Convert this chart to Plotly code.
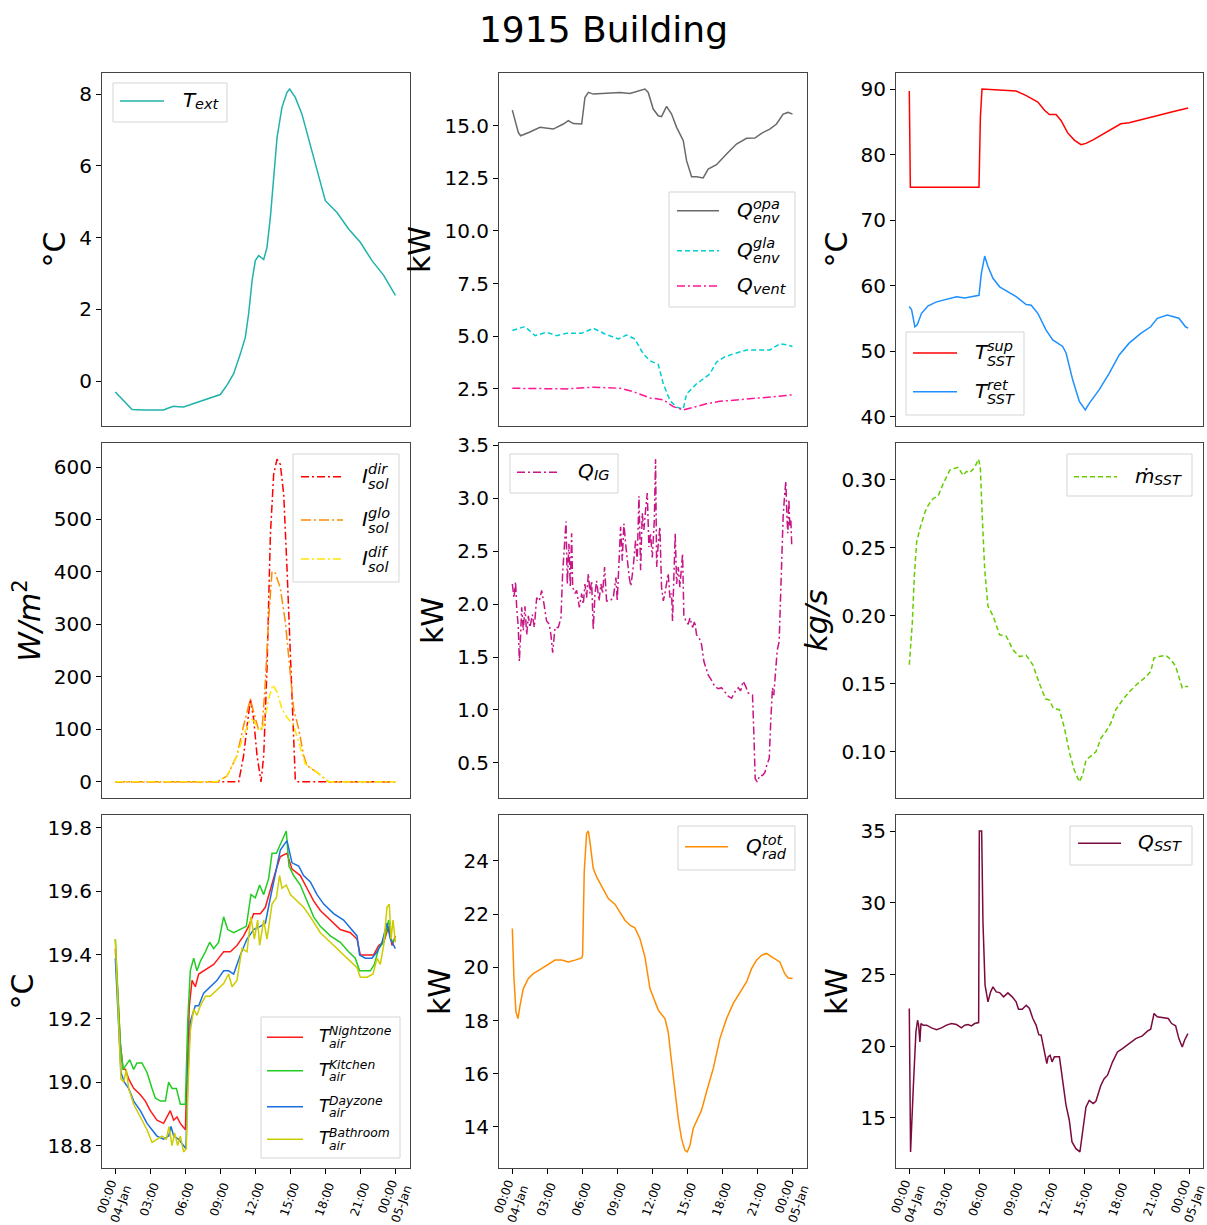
import pandas as pd
import plotly.graph_objects as go

W, H = 1207, 1225
DAY0 = pd.Timestamp("2021-01-04 00:00")

# ---------------- readings: hours after 04-Jan 00:00 and values ----------------
t_ext_h = [0, 0.5, 1.0, 1.43, 2.5, 3.5, 4.13, 4.6, 4.99, 5.4, 5.84, 6.9, 7.9, 8.98, 9.55,
           10.12, 10.7, 11.12, 11.4, 11.7, 11.97, 12.26, 12.69, 12.97, 13.26, 13.54, 13.83,
           14.25, 14.68, 14.91, 15.4, 15.96, 16.96, 17.96, 18.24, 18.96, 19.95, 20.95,
           21.95, 22.95, 23.95]
t_ext = [-0.3, -0.47, -0.62, -0.79, -0.8, -0.8, -0.8, -0.74, -0.7, -0.71, -0.72, -0.6, -0.48,
         -0.37, -0.11, 0.21, 0.77, 1.23, 1.88, 2.81, 3.36, 3.5, 3.39, 3.73, 4.57, 5.68, 6.79,
         7.63, 8.05, 8.14, 7.9, 7.44, 6.24, 5.03, 4.94, 4.7, 4.24, 3.87, 3.36, 2.95, 2.39]

q_opa_h = [0, 0.23, 0.51, 0.71, 1.08, 1.51, 2.36, 3.5, 4.36, 4.79, 5.21, 5.93, 6.21, 6.5,
           6.92, 8.06, 9.2, 10.06, 10.91, 11.34, 11.62, 12.05, 12.48, 12.76, 13.19, 13.62,
           14.05, 14.62, 14.9, 15.33, 15.75, 16.32, 16.75, 17.46, 18.32, 19.17, 20.03,
           20.74, 21.31, 22.02, 22.59, 23.16, 23.59, 23.96]
q_opa = [15.74, 15.3, 14.68, 14.52, 14.6, 14.7, 14.92, 14.84, 15.08, 15.24, 15.1, 15.08,
         16.34, 16.58, 16.5, 16.53, 16.58, 16.53, 16.66, 16.74, 16.58, 15.79, 15.47, 15.43,
         15.92, 15.55, 14.92, 14.29, 13.34, 12.58, 12.58, 12.52, 12.94, 13.15, 13.66, 14.13,
         14.4, 14.41, 14.64, 14.84, 15.08, 15.55, 15.63, 15.55]

q_gla_h = [0, 1.08, 1.94, 2.93, 3.79, 4.64, 5.93, 6.92, 7.92, 9.06, 9.77, 10.48, 11.2,
           11.77, 12.48, 12.91, 13.48, 14.05, 14.62, 14.9, 15.33, 15.75, 16.32, 16.89,
           17.46, 18.18, 18.89, 20.03, 20.88, 22.02, 22.88, 23.45, 23.96]
q_gla = [5.27, 5.46, 5.03, 5.19, 5.03, 5.14, 5.14, 5.38, 5.11, 4.87, 5.06, 4.87, 4.16, 3.84,
         3.66, 2.74, 1.95, 1.63, 1.55, 2.26, 2.5, 2.74, 2.97, 3.21, 3.77, 4.03, 4.16, 4.35,
         4.35, 4.35, 4.64, 4.6, 4.51]

q_vent_h = [0, 1.79, 4.64, 6.92, 9.2, 10.34, 11.77, 12.91, 13.76, 14.62, 15.47, 16.61,
            17.75, 19.46, 21.17, 22.59, 23.96]
q_vent = [2.53, 2.53, 2.5, 2.58, 2.53, 2.37, 2.07, 1.98, 1.66, 1.5, 1.63, 1.79, 1.91, 1.98,
          2.06, 2.14, 2.22]

t_sup_h = [0, 0.09, 5.98, 6.1, 6.24, 7.75, 9.17, 10.03, 11.03, 11.6, 12.02, 12.59, 13.02,
           13.59, 14.16, 14.73, 15.16, 15.73, 16.58, 17.44, 18.15, 18.86, 20.0, 21.14,
           21.99, 22.85, 23.93]
t_sup = [89.7, 75.0, 75.0, 85.7, 90.0, 89.9, 89.7, 89.0, 88.0, 86.75, 86.1, 86.1, 85.2,
         83.3, 82.2, 81.5, 81.7, 82.2, 83.1, 83.95, 84.7, 84.87, 85.4, 85.9, 86.3, 86.65,
         87.1]

t_ret_h = [0, 0.2, 0.48, 0.68, 1.05, 1.62, 2.34, 3.19, 4.05, 4.76, 5.33, 5.98, 6.18, 6.47,
           6.75, 7.18, 7.75, 8.46, 9.17, 10.03, 10.46, 11.03, 11.74, 12.31, 13.16, 13.45,
           14.02, 14.59, 15.1, 15.44, 16.3, 17.15, 18.01, 18.86, 19.86, 20.71, 21.28, 22.14,
           23.13, 23.7, 23.93]
t_ret = [56.8, 56.3, 53.7, 54.0, 55.75, 56.9, 57.5, 57.9, 58.3, 58.1, 58.3, 58.5, 61.8,
         64.5, 62.9, 61.1, 59.8, 59.0, 58.3, 57.1, 57.0, 55.75, 53.2, 51.7, 50.7, 49.7,
         45.6, 42.3, 41.0, 42.0, 44.1, 46.6, 49.4, 51.2, 52.7, 53.7, 55.0, 55.5, 55.0,
         53.7, 53.5]

i_dir_h = [0, 10.55, 10.97, 11.26, 11.55, 11.83, 12.12, 12.46, 12.69, 12.97, 13.26, 13.54,
           13.83, 14.11, 14.4, 14.68, 14.97, 15.2, 15.39, 15.54, 23.95]
i_dir = [0, 0, 50, 101, 158, 120, 50, 0, 50, 216, 471, 586, 615, 605, 548, 407, 248, 88,
         5, 0, 0]

i_glo_h = [0, 8.7, 9.55, 10.4, 10.97, 11.55, 11.83, 12.26, 12.55, 12.83, 13.11, 13.4,
           13.68, 14.11, 14.54, 14.97, 15.25, 15.68, 16.11, 16.39, 17.25, 18.24, 23.95]
i_glo = [0, 0, 11, 50, 107, 158, 133, 98, 101, 190, 311, 401, 398, 369, 305, 203, 139,
         101, 50, 31, 18, 0, 0]

i_dif_h = [0, 8.7, 9.55, 10.4, 10.97, 11.55, 11.83, 12.26, 12.69, 13.11, 13.48, 13.83,
           14.25, 14.68, 15.25, 15.68, 16.25, 17.25, 18.24, 23.95]
i_dif = [0, 0, 11, 50, 88, 120, 117, 98, 107, 158, 185, 171, 139, 123, 107, 75, 34, 18, 0, 0]

q_ig_h = [0.00, 0.14, 0.28, 0.37, 0.51, 0.60, 0.71, 0.80, 0.94, 1.08,
          1.23, 1.37, 1.51, 1.71, 1.88, 2.08, 2.31, 2.51, 2.71, 2.93,
          3.16, 3.30, 3.45, 3.65, 3.93, 4.16, 4.30, 4.44, 4.59, 4.70,
          4.84, 4.96, 5.07, 5.16, 5.36, 5.50, 5.73, 5.93, 6.07, 6.21,
          6.35, 6.50, 6.64, 6.78, 6.92, 7.07, 7.21, 7.41, 7.58, 7.72,
          7.89, 8.06, 8.35, 8.63, 8.86, 8.97, 9.12, 9.26, 9.40, 9.54,
          9.69, 9.83, 10.00, 10.14, 10.34, 10.54, 10.68, 10.83, 10.97, 11.11,
          11.25, 11.40, 11.54, 11.68, 11.82, 11.97, 12.14, 12.25, 12.34, 12.48,
          12.62, 12.76, 12.91, 13.05, 13.19, 13.33, 13.48, 13.62, 13.70, 13.82,
          13.93, 14.05, 14.19, 14.33, 14.47, 14.56, 14.67, 14.84, 15.04, 15.19,
          15.41, 15.61, 15.75, 15.98, 16.18, 16.38, 16.55, 16.75, 17.04, 17.32,
          17.61, 17.89, 18.18, 18.46, 18.75, 19.03, 19.32, 19.52, 19.74, 19.97,
          20.17, 20.54, 20.66, 20.77, 20.94, 21.17, 21.40, 21.60, 21.79, 21.97,
          22.11, 22.25, 22.36, 22.51, 22.65, 22.82, 22.93, 23.05, 23.16, 23.30,
          23.39, 23.48, 23.56, 23.65, 23.73, 23.82, 23.90]
q_ig = [2.19, 2.06, 2.21, 1.97, 1.78, 1.46, 1.71, 1.97, 1.75, 1.98,
        1.71, 1.89, 1.78, 1.90, 1.78, 2.06, 2.03, 2.13, 2.00, 1.84,
        1.81, 1.71, 1.54, 1.78, 1.78, 1.87, 2.29, 2.54, 2.78, 2.19,
        2.57, 2.16, 2.67, 2.16, 2.10, 2.13, 1.97, 2.10, 2.00, 2.19,
        2.06, 2.29, 2.10, 2.22, 1.76, 2.10, 2.22, 2.03, 2.19, 2.10,
        2.35, 2.03, 2.03, 2.06, 2.25, 2.03, 2.48, 2.73, 2.41, 2.76,
        2.57, 2.41, 2.25, 2.17, 2.35, 2.60, 2.41, 3.02, 2.32, 2.86,
        2.70, 2.89, 3.05, 2.54, 2.67, 2.44, 2.79, 3.37, 2.35, 2.57,
        2.73, 2.16, 2.03, 2.10, 2.19, 2.29, 2.06, 2.10, 1.84, 2.29,
        2.67, 2.19, 2.35, 2.16, 2.41, 2.48, 1.89, 1.84, 1.81, 1.87,
        1.78, 1.84, 1.71, 1.68, 1.62, 1.46, 1.40, 1.33, 1.28, 1.22,
        1.20, 1.21, 1.17, 1.13, 1.11, 1.17, 1.21, 1.18, 1.27, 1.22,
        1.16, 1.14, 0.76, 0.35, 0.32, 0.38, 0.38, 0.41, 0.49, 0.54,
        0.92, 1.21, 1.14, 1.33, 1.56, 1.65, 2.03, 2.51, 2.83, 3.05,
        3.16, 2.83, 2.67, 2.99, 2.73, 2.79, 2.54]

m_sst_h = [0, 0.26, 0.43, 0.63, 0.91, 1.34, 1.62, 2.05, 2.48, 2.91,
           3.48, 4.19, 4.62, 4.90, 5.19, 5.61, 5.95, 6.10, 6.27, 6.47,
           6.75, 7.18, 7.75, 8.32, 8.89, 9.46, 10.03, 10.60, 11.17, 11.68,
           12.02, 12.36, 12.88, 13.30, 13.73, 14.16, 14.59, 14.87, 15.16, 15.58,
           16.01, 16.44, 16.87, 17.29, 17.72, 18.29, 18.86, 19.57, 20.28, 20.71,
           21.00, 21.42, 21.99, 22.42, 22.85, 23.13, 23.42, 23.70, 23.93]
m_sst = [0.164, 0.195, 0.229, 0.254, 0.264, 0.276, 0.281, 0.286, 0.288, 0.297,
         0.307, 0.309, 0.303, 0.306, 0.305, 0.309, 0.315, 0.308, 0.271, 0.234,
         0.207, 0.200, 0.186, 0.185, 0.175, 0.170, 0.171, 0.164, 0.150, 0.139,
         0.138, 0.132, 0.131, 0.118, 0.100, 0.0865, 0.078, 0.083, 0.094, 0.097,
         0.100, 0.110, 0.115, 0.121, 0.131, 0.138, 0.144, 0.150, 0.155, 0.159,
         0.169, 0.170, 0.171, 0.168, 0.163, 0.155, 0.147, 0.148, 0.148]

t_night_h = [0.00, 0.20, 0.43, 0.66, 0.86, 1.14, 1.57, 2.14, 2.57, 2.99,
             3.56, 4.13, 4.42, 4.70, 4.99, 5.27, 5.56, 5.99, 6.13, 6.33,
             6.56, 6.84, 7.13, 7.55, 7.98, 8.41, 8.84, 9.26, 9.83, 10.40,
             10.97, 11.40, 11.83, 12.40, 12.83, 13.26, 13.68, 14.11, 14.68, 15.11,
             15.82, 16.39, 16.96, 17.53, 18.39, 19.24, 20.10, 20.67, 20.95, 21.52,
             22.09, 22.52, 22.95, 23.38, 23.66, 23.95]
t_night = [19.42, 19.29, 19.12, 19.04, 19.04, 19.01, 18.98, 18.96, 18.94, 18.91,
           18.88, 18.87, 18.89, 18.91, 18.88, 18.89, 18.87, 18.85, 19.03, 19.24,
           19.32, 19.30, 19.34, 19.35, 19.36, 19.37, 19.39, 19.41, 19.41, 19.43,
           19.46, 19.49, 19.53, 19.53, 19.55, 19.61, 19.66, 19.71, 19.72, 19.67,
           19.65, 19.61, 19.57, 19.54, 19.51, 19.48, 19.47, 19.45, 19.40, 19.40,
           19.40, 19.43, 19.44, 19.49, 19.43, 19.46]

t_kitchen_h = [0.00, 0.20, 0.43, 0.66, 1.00, 1.23, 1.57, 1.85, 2.28, 2.71,
               3.14, 3.42, 3.85, 4.28, 4.56, 4.85, 5.22, 5.56, 5.99, 6.19,
               6.41, 6.70, 6.98, 7.27, 7.70, 8.07, 8.41, 8.84, 9.26, 9.61,
               10.12, 10.69, 11.20, 11.60, 11.97, 12.34, 12.69, 13.11, 13.40, 13.77,
               14.11, 14.40, 14.62, 14.85, 15.25, 15.82, 16.39, 16.96, 17.53, 18.39,
               19.24, 19.95, 20.52, 20.89, 21.24, 21.81, 22.15, 22.52, 22.95, 23.38,
               23.66, 23.95]
t_kitchen = [19.45, 19.28, 19.12, 19.04, 19.06, 19.07, 19.04, 19.06, 19.06, 19.03,
             18.98, 18.95, 18.94, 18.94, 19.00, 18.98, 18.98, 18.93, 18.93, 19.19,
             19.35, 19.39, 19.35, 19.38, 19.41, 19.44, 19.42, 19.44, 19.52, 19.48,
             19.47, 19.48, 19.49, 19.59, 19.58, 19.62, 19.59, 19.64, 19.72, 19.72,
             19.75, 19.77, 19.79, 19.68, 19.65, 19.62, 19.57, 19.52, 19.49, 19.46,
             19.44, 19.41, 19.39, 19.35, 19.35, 19.35, 19.37, 19.42, 19.44, 19.51,
             19.44, 19.45]

t_day_h = [0.00, 0.20, 0.48, 0.77, 1.14, 1.57, 2.14, 2.71, 3.14, 3.56,
           4.13, 4.56, 4.76, 4.99, 5.42, 5.84, 6.04, 6.21, 6.41, 6.84,
           7.13, 7.55, 8.12, 8.70, 9.26, 9.69, 10.12, 10.69, 11.26, 11.83,
           12.40, 12.83, 13.26, 13.68, 14.11, 14.68, 15.11, 15.68, 16.10, 16.68,
           17.25, 17.82, 18.67, 19.52, 20.24, 20.67, 20.89, 21.38, 21.95, 22.38,
           22.81, 23.23, 23.52, 23.95]
t_day = [19.39, 19.24, 19.03, 19.00, 18.98, 18.94, 18.91, 18.87, 18.85, 18.83,
         18.82, 18.83, 18.86, 18.83, 18.82, 18.80, 18.79, 19.03, 19.19, 19.24,
         19.24, 19.28, 19.30, 19.32, 19.35, 19.35, 19.34, 19.40, 19.45, 19.48,
         19.49, 19.50, 19.58, 19.66, 19.73, 19.76, 19.69, 19.68, 19.65, 19.63,
         19.59, 19.56, 19.53, 19.51, 19.48, 19.46, 19.40, 19.39, 19.39, 19.41,
         19.44, 19.50, 19.45, 19.42]

t_bath_h = [0.00, 0.20, 0.48, 0.71, 0.94, 1.14, 1.57, 2.14, 2.71, 3.14,
            3.56, 3.99, 4.36, 4.59, 4.85, 5.07, 5.33, 5.56, 5.84, 6.07,
            6.21, 6.41, 6.70, 6.98, 7.27, 7.70, 8.12, 8.70, 9.26, 9.69,
            9.98, 10.40, 10.83, 11.26, 11.60, 11.89, 12.17, 12.34, 12.69, 12.97,
            13.40, 13.77, 14.05, 14.25, 14.62, 14.97, 15.54, 16.10, 16.68, 17.53,
            18.39, 19.24, 20.10, 20.67, 20.95, 21.52, 22.04, 22.38, 22.66, 22.95,
            23.23, 23.43, 23.58, 23.75, 23.95]
t_bath = [19.45, 19.24, 19.01, 19.00, 19.04, 18.98, 18.93, 18.89, 18.85, 18.81,
          18.82, 18.83, 18.82, 18.86, 18.80, 18.84, 18.80, 18.83, 18.78, 18.79,
          18.98, 19.16, 19.23, 19.21, 19.24, 19.27, 19.27, 19.29, 19.31, 19.34,
          19.30, 19.32, 19.42, 19.41, 19.52, 19.45, 19.51, 19.43, 19.51, 19.45,
          19.56, 19.58, 19.65, 19.61, 19.62, 19.59, 19.57, 19.55, 19.52, 19.47,
          19.44, 19.41, 19.38, 19.36, 19.33, 19.33, 19.34, 19.39, 19.37, 19.43,
          19.55, 19.56, 19.45, 19.51, 19.44]

q_rad_h = [0, 0.14, 0.31, 0.48, 0.66, 0.94, 1.37, 1.79, 2.36, 3.08,
           3.65, 4.22, 4.79, 5.36, 5.93, 6.01, 6.15, 6.35, 6.50, 6.64,
           6.92, 7.21, 7.78, 8.21, 8.77, 9.20, 9.63, 10.06, 10.48, 10.91,
           11.34, 11.77, 12.05, 12.48, 13.05, 13.33, 13.62, 13.90, 14.19, 14.47,
           14.76, 14.96, 15.19, 15.47, 15.90, 16.18, 16.61, 17.18, 17.75, 18.32,
           18.89, 19.46, 20.03, 20.46, 20.88, 21.31, 21.74, 22.17, 22.88, 23.30,
           23.59, 23.96]
q_rad = [21.46, 19.58, 18.32, 18.07, 18.57, 19.2, 19.58, 19.76, 19.91, 20.1,
         20.27, 20.27, 20.2, 20.27, 20.35, 20.45, 23.59, 25.03, 25.12, 24.71,
         23.71, 23.4, 22.96, 22.58, 22.37, 22.08, 21.77, 21.58, 21.48, 21.08,
         20.39, 19.2, 18.89, 18.39, 18.07, 17.57, 16.44, 15.32, 14.31, 13.56,
         13.12, 13.06, 13.31, 13.94, 14.38, 14.63, 15.32, 16.19, 17.32, 18.07,
         18.64, 19.07, 19.45, 19.95, 20.27, 20.45, 20.52, 20.39, 20.2, 19.76,
         19.6, 19.58]

q_sst_h = [0.00, 0.11, 0.34, 0.57, 0.71, 0.80, 0.91, 1.00, 1.20, 1.48,
           1.91, 2.34, 2.76, 3.19, 3.62, 4.05, 4.47, 4.76, 5.04, 5.33,
           5.61, 5.95, 6.01, 6.21, 6.32, 6.50, 6.75, 6.98, 7.18, 7.46,
           7.75, 8.09, 8.46, 8.83, 9.17, 9.37, 9.69, 10.03, 10.31, 10.60,
           10.88, 11.11, 11.31, 11.60, 11.80, 11.91, 12.08, 12.25, 12.45, 12.88,
           13.16, 13.45, 13.73, 13.96, 14.30, 14.64, 14.87, 15.16, 15.44, 15.78,
           16.01, 16.44, 16.72, 17.01, 17.44, 17.86, 18.29, 18.86, 19.43, 20.00,
           20.43, 20.71, 21.00, 21.28, 21.71, 22.22, 22.51, 22.85, 23.13, 23.42,
           23.62, 23.90]
q_sst = [22.63, 12.63, 17.05, 21.0, 21.81, 21.47, 20.3, 21.58, 21.47, 21.47,
         21.28, 21.16, 21.28, 21.47, 21.58, 21.51, 21.28, 21.47, 21.51, 21.42,
         21.58, 21.65, 35.0, 35.0, 28.67, 24.26, 23.09, 23.79, 24.14, 23.79,
         23.74, 23.44, 23.72, 23.44, 23.09, 22.58, 22.58, 22.86, 22.63, 21.93,
         21.47, 20.81, 20.77, 19.6, 18.79, 19.26, 19.37, 18.91, 19.26, 19.26,
         17.74, 15.88, 14.84, 13.33, 12.86, 12.63, 14.02, 15.77, 16.23, 16.0,
         16.16, 17.28, 17.74, 17.98, 18.91, 19.6, 19.84, 20.19, 20.53, 20.72,
         21.05, 21.19, 22.28, 22.05, 22.0, 21.93, 21.58, 21.42, 20.53, 19.95,
         20.42, 20.88]

tick_hours = [0, 3, 6, 9, 12, 15, 18, 21, 24]
tick_text = ["00:00<br>04-Jan", "03:00", "06:00", "09:00", "12:00", "15:00",
             "18:00", "21:00", "00:00<br>05-Jan"]

# ---------------- series: data, styling and legend label ----------------
DASHDOT = "8px,3px,2px,3px"
DASHED = "5px,3px"
SERIES = {
    "T_ext": (t_ext_h, t_ext, "#20b2aa", "solid", ("T", None, "ext")),
    "Q_opa": (q_opa_h, q_opa, "#696969", "solid", ("Q", "opa", "env")),
    "Q_gla": (q_gla_h, q_gla, "#00ced1", DASHED, ("Q", "gla", "env")),
    "Q_vent": (q_vent_h, q_vent, "#ff1493", DASHDOT, ("Q", None, "vent")),
    "T_sup": (t_sup_h, t_sup, "#ff0000", "solid", ("T", "sup", "SST")),
    "T_ret": (t_ret_h, t_ret, "#1e90ff", "solid", ("T", "ret", "SST")),
    "I_dir": (i_dir_h, i_dir, "#ff0000", DASHDOT, ("I", "dir", "sol")),
    "I_glo": (i_glo_h, i_glo, "#ff8c00", "10px,3px,2px,3px", ("I", "glo", "sol")),
    "I_dif": (i_dif_h, i_dif, "#ffe600", DASHDOT, ("I", "dif", "sol")),
    "Q_IG": (q_ig_h, q_ig, "#c71585", DASHDOT, ("Q", None, "IG")),
    "m_SST": (m_sst_h, m_sst, "#66cc00", DASHED, ("ṁ", None, "SST")),
    "T_night": (t_night_h, t_night, "#ff1a1a", "solid", ("T", "Nightzone", "air")),
    "T_kitchen": (t_kitchen_h, t_kitchen, "#22cc22", "solid", ("T", "Kitchen", "air")),
    "T_day": (t_day_h, t_day, "#1a6fe0", "solid", ("T", "Dayzone", "air")),
    "T_bath": (t_bath_h, t_bath, "#cccc00", "solid", ("T", "Bathroom", "air")),
    "Q_rad": (q_rad_h, q_rad, "#ff8c00", "solid", ("Q", "tot", "rad")),
    "Q_SST": (q_sst_h, q_sst, "#7b0b3e", "solid", ("Q", None, "SST")),
}

# advance widths (em) of the oblique letters that carry the scripts
ADVANCE = {"T": 0.611, "Q": 0.787, "I": 0.295, "ṁ": 0.974}

# panel layout: series drawn, y ticks, tick format, y-axis title
PANELS = [
    (["T_ext"], [0, 2, 4, 6, 8], "d", "°C"),
    (["Q_opa", "Q_gla", "Q_vent"], [2.5, 5, 7.5, 10, 12.5, 15], ".1f", "kW"),
    (["T_sup", "T_ret"], [40, 50, 60, 70, 80, 90], "d", "°C"),
    (["I_dir", "I_glo", "I_dif"], [0, 100, 200, 300, 400, 500, 600], "d",
     "<i>W/m</i><sup>2</sup>"),
    (["Q_IG"], [0.5, 1.0, 1.5, 2.0, 2.5, 3.0, 3.5], ".1f", "kW"),
    (["m_SST"], [0.10, 0.15, 0.20, 0.25, 0.30], ".2f", "<i>kg/s</i>"),
    (["T_night", "T_kitchen", "T_day", "T_bath"], [18.8, 19.0, 19.2, 19.4, 19.6, 19.8],
     ".1f", "°C"),
    (["Q_rad"], [14, 16, 18, 20, 22, 24], "d", "kW"),
    (["Q_SST"], [15, 20, 25, 30, 35], "d", "kW"),
]

# pixel frames of the subplot grid
COLS = [(102, 410), (499, 807), (896, 1203)]
ROWS = [(73, 426), (443, 798), (815, 1168)]

# legend boxes (pixels): box, handle start/end, text x, entries, font sizes
LEGENDS = [
    dict(box=(113, 83, 227, 122), line=(120, 164), tx=182,
         entries=[("T_ext", 101)], fs=20, ss=14.5),
    dict(box=(669, 192, 795, 307), line=(677, 719), tx=736,
         entries=[("Q_opa", 210.7), ("Q_gla", 250.7), ("Q_vent", 286)], fs=20, ss=14.5),
    dict(box=(906, 332, 1024, 415), line=(913, 957), tx=974,
         entries=[("T_sup", 353), ("T_ret", 391.7)], fs=20, ss=14.5),
    dict(box=(293, 454, 399, 582), line=(301, 343), tx=361,
         entries=[("I_dir", 476.7), ("I_glo", 520), ("I_dif", 559)], fs=20, ss=14.5),
    dict(box=(510, 454, 618, 493), line=(517, 560), tx=577,
         entries=[("Q_IG", 472.3)], fs=20, ss=14.5),
    dict(box=(1067, 454, 1192, 496), line=(1074, 1117), tx=1134,
         entries=[("m_SST", 476.7)], fs=20, ss=14.5),
    dict(box=(261, 1017, 400, 1158), line=(267, 303), tx=318,
         entries=[("T_night", 1037.3), ("T_kitchen", 1070.7), ("T_day", 1106.7),
                  ("T_bath", 1139.3)], fs=17, ss=12.3),
    dict(box=(678, 826, 795, 870), line=(685, 728), tx=745,
         entries=[("Q_rad", 846.7)], fs=20, ss=14.5),
    dict(box=(1070, 826, 1192, 865), line=(1078, 1121), tx=1137,
         entries=[("Q_SST", 843.3)], fs=20, ss=14.5),
]

FONT = "DejaVu Sans"


def stamp(hours):
    return [DAY0 + pd.Timedelta(hours=h) for h in hours]


def px(x):
    return x / W


def py(y):
    return 1 - y / H


fig = go.Figure()
layout = dict(
    width=W, height=H, margin=dict(l=0, r=0, t=0, b=0, autoexpand=False),
    paper_bgcolor="white", plot_bgcolor="white",
    font=dict(family=FONT, color="black"),
    showlegend=False,
    title=dict(text="1915 Building", x=0.5, xanchor="center", y=py(29), yanchor="middle",
               automargin=False, font=dict(size=36, family=FONT, color="black")),
)

x_range = stamp([-1.14, 25.2])

for i, (keys, yticks, fmt, ytitle) in enumerate(PANELS):
    r, c = divmod(i, 3)
    n = "" if i == 0 else str(i + 1)
    (x0, x1), (y0, y1) = COLS[c], ROWS[r]
    allv = []
    for k in keys:
        h, v, color, dash, label = SERIES[k]
        allv += v
        fig.add_trace(go.Scatter(
            x=stamp(h), y=v, mode="lines", name=k,
            line=dict(color=color, width=1.5, dash=dash),
            xaxis="x" + n, yaxis="y" + n))
    lo, hi = min(allv), max(allv)
    pad = 0.05 * (hi - lo)
    xa = dict(domain=[px(x0), px(x1)], anchor="y" + n, range=x_range, type="date",
              automargin=False,
              showline=True, mirror=True, linecolor="#444444", linewidth=1,
              showgrid=False, zeroline=False)
    if r == 2:
        xa.update(ticks="outside", ticklen=5, tickwidth=1, tickcolor="black",
                  tickvals=stamp(tick_hours), ticktext=tick_text,
                  tickangle=-70, ticklabelshift=3, ticklabeloverflow="allow",
                  tickfont=dict(size=12, family=FONT, color="black"))
    else:
        xa.update(ticks="", showticklabels=False)
    ya = dict(domain=[py(y1), py(y0)], anchor="x" + n, range=[lo - pad, hi + pad],
              automargin=False,
              showline=True, mirror=True, linecolor="#444444", linewidth=1,
              showgrid=False, zeroline=False,
              ticks="outside", ticklen=5, tickwidth=1, tickcolor="black",
              tickvals=yticks, tickformat=fmt,
              tickfont=dict(size=20, family=FONT, color="black"),
              title=dict(text=ytitle, standoff=4,
                         font=dict(size=30, family=FONT, color="black")))
    layout["xaxis" + n] = xa
    layout["yaxis" + n] = ya


def note(x, y, text, size):
    return dict(xref="paper", yref="paper", x=px(x), y=py(y), xanchor="left",
                yanchor="middle", showarrow=False, text=text, borderpad=0,
                font=dict(size=size, family=FONT, color="black"))


shapes, annotations = [], []
for lg in LEGENDS:
    bx0, by0, bx1, by1 = lg["box"]
    shapes.append(dict(type="rect", xref="paper", yref="paper",
                       x0=px(bx0), x1=px(bx1), y0=py(by1), y1=py(by0),
                       line=dict(color="#d5d5d5", width=1),
                       fillcolor="rgba(255,255,255,0.85)"))
    lx0, lx1 = lg["line"]
    fs, ss = lg["fs"], lg["ss"]
    for key, y in lg["entries"]:
        _, _, color, dash, (main, sup, sub) = SERIES[key]
        shapes.append(dict(type="line", xref="paper", yref="paper",
                           x0=px(lx0), x1=px(lx1), y0=py(y), y1=py(y),
                           line=dict(color=color, width=1.5, dash=dash)))
        tx = lg["tx"]
        sx = tx + ADVANCE[main] * fs
        annotations.append(note(tx, y - 0.05 * fs, "<i>%s</i>" % main, fs))
        if sup:
            annotations.append(note(sx, y - 0.36 * fs, "<i>%s</i>" % sup, ss))
            annotations.append(note(sx, y + 0.38 * fs, "<i>%s</i>" % sub, ss))
        else:
            annotations.append(note(sx, y + 0.15 * fs, "<i>%s</i>" % sub, ss))

layout["shapes"] = shapes
layout["annotations"] = annotations
fig.update_layout(**layout)
fig.write_html("out.html")
